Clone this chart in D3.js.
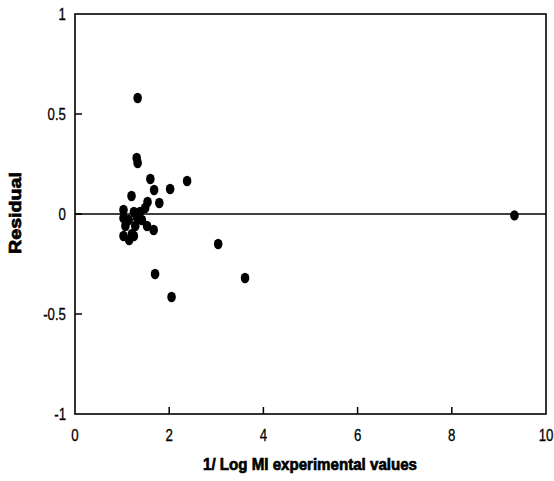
<!DOCTYPE html>
<html>
<head>
<meta charset="utf-8">
<script src="https://cdn.jsdelivr.net/npm/d3@7"></script>
<style>
  body { margin: 0; background: #fff; }
  text { font-family: "Liberation Sans", Arial, sans-serif; fill: #000; }
</style>
</head>
<body>
<div id="chart"></div>
<script>
// 1/log MI values and their residuals
var invLogMI = [1.33, 1.31, 1.33, 1.60, 1.68, 2.02, 2.38, 1.20, 1.54, 1.79,
                1.67, 3.04, 1.70, 3.61, 2.05, 9.33,
                1.03, 1.25, 1.49, 1.38, 1.03, 1.14, 1.32, 1.42, 1.53,
                1.07, 1.28, 1.03, 1.25, 1.15, 1.21];
var residual = [0.58, 0.28, 0.255, 0.175, 0.12, 0.125, 0.165, 0.09, 0.06, 0.055,
                -0.08, -0.15, -0.30, -0.32, -0.415, -0.007,
                0.02, 0.01, 0.03, 0.01, -0.02, -0.03, -0.02, -0.03, -0.06,
                -0.06, -0.06, -0.11, -0.11, -0.13, -0.10];
var xTicks = [0, 2, 4, 6, 8, 10];
var yTicks = [-1, -0.5, 0, 0.5, 1];
var yTickLabels = ["-1", "-0.5", "0", "0.5", "1"];

function main() {
    var w = 554, h = 481;
    var margin = {left: 75, top: 14, right: 8, bottom: 67};

    var svg = d3.select("#chart").append("svg")
        .attr("width", w)
        .attr("height", h);

    var x = d3.scaleLinear().domain([0, 10]).range([margin.left, w - margin.right]);
    var y = d3.scaleLinear().domain([-1, 1]).range([h - margin.bottom, margin.top]);

    // frame
    svg.append("rect")
        .attr("x", x(0)).attr("y", y(1))
        .attr("width", x(10) - x(0)).attr("height", y(-1) - y(1))
        .style("fill", "none").style("stroke", "#000").style("stroke-width", 1.6);

    // ticks pointing inwards
    svg.selectAll(".xt").data(xTicks.slice(1, -1)).enter().append("line")
        .attr("x1", function (d) { return x(d); })
        .attr("x2", function (d) { return x(d); })
        .attr("y1", y(-1)).attr("y2", y(-1) - 7)
        .style("stroke", "#000").style("stroke-width", 1.5);

    svg.selectAll(".yt").data(yTicks.slice(1, -1)).enter().append("line")
        .attr("x1", x(0)).attr("x2", x(0) + 7)
        .attr("y1", function (d) { return y(d); })
        .attr("y2", function (d) { return y(d); })
        .style("stroke", "#000").style("stroke-width", 1.5);

    // tick labels, squeezed to look like a narrow face
    svg.selectAll(".xl").data(xTicks).enter().append("text")
        .attr("transform", function (d) { return "translate(" + x(d) + "," + (y(-1) + 27) + ") scale(0.78,1)"; })
        .attr("text-anchor", "middle")
        .style("font-size", "17px")
        .style("stroke", "#000").style("stroke-width", 0.3)
        .text(function (d) { return d; });

    svg.selectAll(".yl").data(yTicks).enter().append("text")
        .attr("transform", function (d) { return "translate(" + (x(0) - 9) + "," + (y(d) + 6) + ") scale(0.78,1)"; })
        .attr("text-anchor", "end")
        .style("font-size", "17px")
        .style("stroke", "#000").style("stroke-width", 0.3)
        .text(function (d, i) { return yTickLabels[i]; });

    // zero line
    svg.append("line")
        .attr("x1", x(0)).attr("x2", x(10))
        .attr("y1", y(0)).attr("y2", y(0))
        .style("stroke", "#000").style("stroke-width", 1.6);

    // points
    var data = d3.zip(invLogMI, residual);
    svg.selectAll("ellipse").data(data).enter().append("ellipse")
        .attr("cx", function (d) { return x(d[0]); })
        .attr("cy", function (d) { return y(d[1]); })
        .attr("rx", 4.3)
        .attr("ry", 5.2)
        .style("fill", "#000");

    // axis titles
    svg.append("text")
        .attr("x", 310)
        .attr("y", 470)
        .attr("text-anchor", "middle")
        .attr("textLength", 214)
        .attr("lengthAdjust", "spacingAndGlyphs")
        .style("font-size", "17px").style("font-weight", "bold")
        .style("stroke", "#000").style("stroke-width", 0.7)
        .text("1/ Log MI experimental values");

    svg.append("text")
        .attr("transform", "translate(21,213) rotate(-90)")
        .attr("text-anchor", "middle")
        .attr("textLength", 82)
        .attr("lengthAdjust", "spacingAndGlyphs")
        .style("font-size", "16px").style("font-weight", "bold")
        .style("stroke", "#000").style("stroke-width", 0.7)
        .text("Residual");
}
main();
</script>
</body>
</html>
